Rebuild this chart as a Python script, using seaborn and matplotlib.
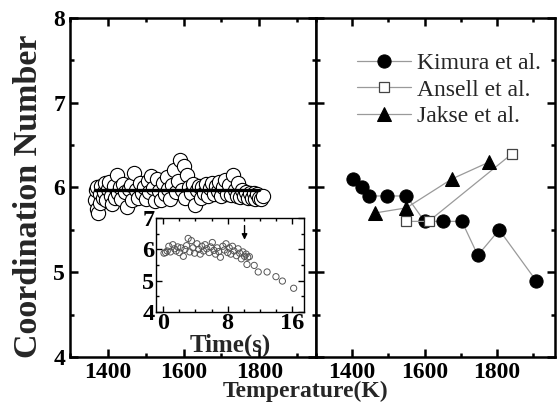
import numpy as np
import pandas as pd
import matplotlib
matplotlib.use("Agg")
import matplotlib.pyplot as plt
from matplotlib.ticker import MultipleLocator
import seaborn as sns

# ── data ─────────────────────────────────────────────────
temp_sim = [1365, 1368, 1370, 1372, 1375, 1378, 1380, 1383, 1386, 1390,
            1393, 1396, 1400, 1404, 1408, 1412, 1416, 1420, 1424, 1428,
            1432, 1436, 1440, 1445, 1450, 1455, 1460, 1465, 1470, 1475,
            1480, 1485, 1490, 1495, 1500, 1505, 1510, 1515, 1520, 1525,
            1530, 1535, 1540, 1545, 1550, 1555, 1560, 1565, 1570, 1575,
            1580, 1585, 1590, 1595, 1600, 1605, 1610, 1615, 1620, 1625,
            1630, 1635, 1640, 1645, 1650, 1655, 1660, 1665, 1670, 1675,
            1680, 1685, 1690, 1695, 1700, 1705, 1710, 1715, 1720, 1725,
            1730, 1735, 1740, 1745, 1750, 1755, 1760, 1765, 1770, 1775,
            1780, 1785, 1790, 1795, 1800, 1805, 1810]
cn_sim = [5.85, 5.97, 5.75, 6.00, 5.70, 5.92, 5.82, 6.02, 5.88, 5.95,
          6.05, 5.85, 5.98, 6.07, 5.90, 5.80, 6.02, 5.88, 6.15, 5.93,
          6.00, 5.86, 6.04, 5.95, 5.77, 5.98, 6.03, 5.85, 6.17, 5.97,
          5.88, 6.05, 5.93, 6.00, 5.86, 6.08, 5.95, 6.13, 5.99, 5.84,
          6.10, 5.96, 5.85, 6.05, 5.92, 6.12, 5.98, 5.86, 6.03, 6.21,
          5.95, 6.08, 6.32, 5.97, 6.25, 5.88, 6.15, 6.00, 5.93, 6.04,
          5.79, 5.97, 6.02, 5.88, 6.00, 5.93, 6.04, 5.90, 5.99, 6.05,
          5.92, 6.02, 5.96, 6.07, 5.90, 6.00, 6.09, 5.92, 6.03, 5.91,
          6.15, 5.97, 5.90, 6.05, 5.89, 5.97, 5.90, 5.95, 5.88, 5.94,
          5.88, 5.93, 5.87, 5.92, 5.88, 5.86, 5.90]
mean_T  = [1365, 1800]
mean_cn = [5.97, 5.97]

time_s = [0.1, 0.3, 0.5, 0.7, 0.9, 1.2, 1.4, 1.6, 1.8, 2.0,
          2.2, 2.5, 2.7, 2.9, 3.1, 3.3, 3.5, 3.7, 3.9, 4.2,
          4.4, 4.6, 4.8, 5.0, 5.2, 5.4, 5.7, 5.9, 6.1, 6.3,
          6.5, 6.7, 6.9, 7.1, 7.4, 7.6, 7.8, 8.0, 8.2, 8.4,
          8.6, 8.8, 9.1, 9.3, 9.5, 9.7, 9.9, 10.1, 10.3, 10.5,
          10.7, 10.4, 11.3, 11.8, 12.9, 14.0, 14.8, 16.2]
cn_time = [5.88, 5.90, 5.95, 6.10, 5.92, 6.15, 6.02, 5.95, 6.08, 5.90,
           6.05, 5.78, 6.00, 6.12, 6.35, 5.92, 6.28, 6.05, 5.88, 6.18,
           6.00, 5.85, 6.10, 5.95, 6.15, 6.02, 5.90, 6.08, 6.22, 5.97,
           5.85, 6.05, 5.93, 5.75, 6.10, 5.98, 6.18, 5.90, 6.05, 5.85,
           6.10, 5.95, 5.80, 6.02, 5.88, 5.70, 5.92, 5.78, 5.85, 5.75,
           5.77, 5.52, 5.49, 5.28, 5.28, 5.13, 4.99, 4.76]

kim_T  = [1403, 1428, 1447, 1497, 1550, 1600, 1650, 1703, 1747, 1806, 1908]
kim_cn = [6.10, 6.00, 5.90, 5.90, 5.90, 5.60, 5.60, 5.60, 5.20, 5.50, 4.90]
ans_T  = [1550, 1611, 1842]
ans_cn = [5.60, 5.60, 6.40]
jak_T  = [1464, 1550, 1675, 1778]
jak_cn = [5.70, 5.76, 6.10, 6.30]

sim    = pd.DataFrame({"T": temp_sim, "CN": cn_sim})
inset  = pd.DataFrame({"t": time_s, "CN": cn_time})

# ── style ────────────────────────────────────────────────
sns.set_theme(style="ticks")
plt.rcParams["font.family"] = ["Liberation Serif", "DejaVu Serif"]
plt.rcParams["axes.linewidth"] = 1.8
plt.rcParams["axes.edgecolor"] = "black"

fig = plt.figure(figsize=(5.57, 4.15), dpi=100)
axL = fig.add_axes([0.1257, 0.1398, 0.4416, 0.8168])
axR = fig.add_axes([0.5673, 0.1398, 0.4290, 0.8168])

def style_ax(ax, lw=1.8):
    ax.tick_params(which="both", direction="in", top=True, right=True,
                   colors="black", width=lw)
    ax.tick_params(which="major", length=6)
    ax.tick_params(which="minor", length=3)
    for s in ax.spines.values():
        s.set_linewidth(lw)
        s.set_color("black")

# ── left: simulation vs temperature ──────────────────────
sns.scatterplot(data=sim, x="T", y="CN", ax=axL, s=105, marker="o",
                facecolor="white", edgecolor="black", linewidth=0.8,
                legend=False, zorder=2)
sns.lineplot(x=mean_T, y=mean_cn, ax=axL, color="black", lw=2.4, zorder=3)
axL.set_xlim(1300, 1950)
axL.set_ylim(4, 8)
axL.xaxis.set_major_locator(MultipleLocator(200))
axL.xaxis.set_minor_locator(MultipleLocator(100))
axL.yaxis.set_major_locator(MultipleLocator(1))
axL.yaxis.set_minor_locator(MultipleLocator(0.5))
axL.set_xlabel("")
axL.set_ylabel("Coordination Number", fontsize=24.5, fontweight="bold")
axL.yaxis.set_label_coords(-0.105, 0.475)
style_ax(axL)
axL.set_xticks([1400, 1600, 1800])
for lab in axL.get_xticklabels() + axL.get_yticklabels():
    lab.set_fontsize(17); lab.set_fontweight("bold")

# ── right: experiments ───────────────────────────────────
sns.lineplot(x=kim_T, y=kim_cn, ax=axR, sort=False, estimator=None,
             color="#9a9a9a", lw=0.9, marker="o", markersize=9.5,
             mfc="black", mec="black", label="Kimura et al.")
sns.lineplot(x=ans_T, y=ans_cn, ax=axR, sort=False, estimator=None,
             color="#9a9a9a", lw=0.9, marker="s", markersize=7.5,
             mfc="white", mec="#444444", mew=0.9, label="Ansell et al.")
sns.lineplot(x=jak_T, y=jak_cn, ax=axR, sort=False, estimator=None,
             color="#9a9a9a", lw=0.9, marker="^", markersize=10,
             mfc="black", mec="black", label="Jakse et al.")
axR.set_xlim(1300, 1960)
axR.set_ylim(4, 8)
axR.xaxis.set_major_locator(MultipleLocator(200))
axR.xaxis.set_minor_locator(MultipleLocator(100))
axR.yaxis.set_major_locator(MultipleLocator(1))
axR.yaxis.set_minor_locator(MultipleLocator(0.5))
axR.set_xticks([1400, 1600, 1800])
axR.set_yticklabels([])
axR.set_xlabel(""); axR.set_ylabel("")
style_ax(axR)
for lab in axR.get_xticklabels():
    lab.set_fontsize(17); lab.set_fontweight("bold")
axR.legend(loc="upper right", frameon=False, fontsize=17, handlelength=2.3,
           handletextpad=0.25, labelspacing=0.2, borderaxespad=0.0,
           bbox_to_anchor=(0.98, 0.925))

fig.text(0.548, 0.056, "Temperature(K)", ha="center", va="center",
         fontsize=17, fontweight="bold")

# ── inset: time evolution ────────────────────────────────
axI = fig.add_axes([0.280, 0.248, 0.266, 0.2265])
sns.scatterplot(data=inset, x="t", y="CN", ax=axI, s=20, marker="o",
                facecolor="none", edgecolor="#555555", linewidth=0.7,
                legend=False)
axI.annotate("", xy=(10.1, 6.22), xytext=(10.1, 6.85),
             arrowprops=dict(arrowstyle="-|>", color="black", lw=1.0,
                             mutation_scale=8))
axI.set_xlim(-0.9, 17.5)
axI.set_ylim(4, 7)
axI.xaxis.set_major_locator(MultipleLocator(8))
axI.xaxis.set_minor_locator(MultipleLocator(2))
axI.yaxis.set_major_locator(MultipleLocator(1))
axI.yaxis.set_minor_locator(MultipleLocator(0.5))
style_ax(axI, lw=1.0)
axI.tick_params(which="major", length=4, pad=1)
axI.tick_params(which="minor", length=2)
for lab in axI.get_xticklabels() + axI.get_yticklabels():
    lab.set_fontsize(17.5); lab.set_fontweight("bold")
axI.set_xlabel("Time(s)", fontsize=18, fontweight="bold", labelpad=-1)
axI.set_ylabel("")

fig.savefig("out.png", dpi=100)
